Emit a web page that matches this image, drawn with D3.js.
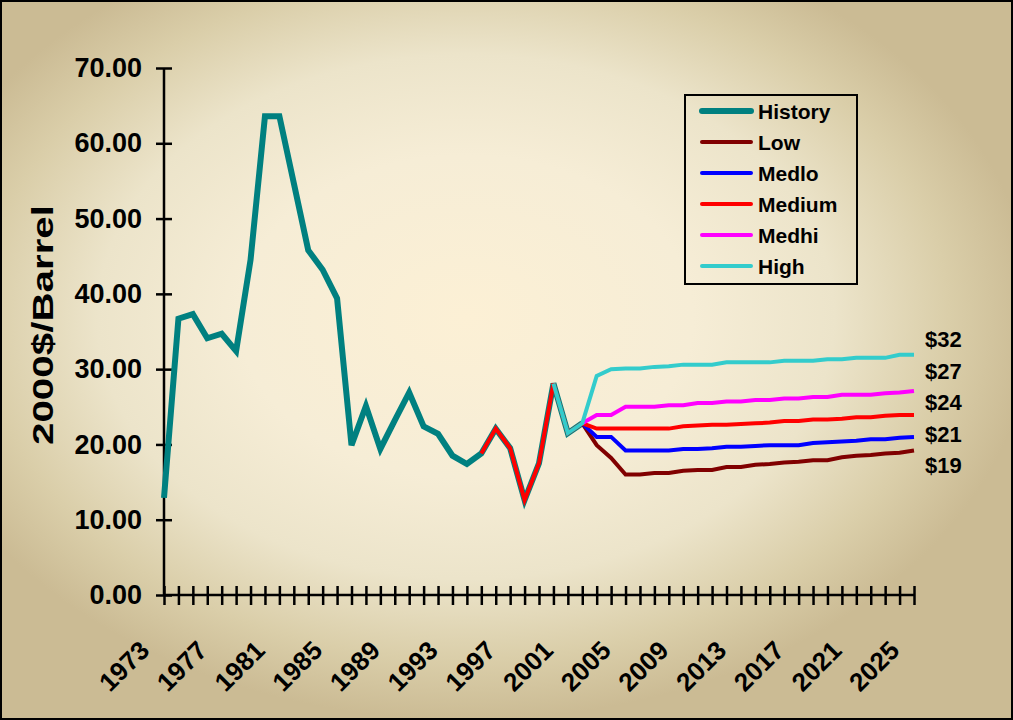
<!DOCTYPE html>
<html>
<head>
<meta charset="utf-8">
<script src="https://cdn.jsdelivr.net/npm/d3@7/dist/d3.min.js"></script>
<style>
  html, body { margin: 0; padding: 0; background: #fff; }
  svg { display: block; }
  text { font-family: "Liberation Sans", Arial, sans-serif; font-weight: bold; fill: #000; }
</style>
</head>
<body>
<svg id="chart" width="1013" height="720"></svg>
<script>
// Oil price history and projection scenarios, 2000 dollars per barrel
const historyYears = d3.range(1973, 2003);
const historyValues = [12.9, 36.7, 37.3, 34.1, 34.7, 32.4, 44.5, 63.6, 63.6, 54.7,
  45.8, 43.2, 39.4, 19.9, 25.1, 19.4, 23.2, 26.9, 22.4, 21.4,
  18.5, 17.4, 18.8, 22.1, 19.5, 12.6, 17.5, 28.1, 21.5, 22.8];

const mediumYears = d3.range(1995, 2026);
const mediumValues = [18.8, 22.1, 19.5, 12.6, 17.5, 28.1, 21.5, 22.8,
  22.1, 22.1, 22.1, 22.1, 22.1, 22.1, 22.4, 22.5, 22.6, 22.6, 22.7, 22.8,
  22.9, 23.1, 23.1, 23.3, 23.3, 23.4, 23.6, 23.6, 23.8, 23.9, 23.9];

const highYears = d3.range(2000, 2026);
const highValues = [28.1, 21.5, 22.8,
  29.1, 30.0, 30.1, 30.1, 30.3, 30.4, 30.6, 30.6, 30.6, 30.9, 30.9, 30.9,
  30.9, 31.1, 31.1, 31.1, 31.3, 31.3, 31.5, 31.5, 31.5, 31.9, 31.9];

const scenarioYears = d3.range(2002, 2026);
const medhiValues = [22.8,
  23.9, 23.9, 25.0, 25.0, 25.0, 25.2, 25.2, 25.5, 25.5, 25.7, 25.7, 25.9,
  25.9, 26.1, 26.1, 26.3, 26.3, 26.6, 26.6, 26.6, 26.8, 26.9, 27.1];
const medloValues = [22.8,
  21.0, 21.0, 19.2, 19.2, 19.2, 19.2, 19.4, 19.4, 19.5, 19.7, 19.7, 19.8,
  19.9, 19.9, 19.9, 20.2, 20.3, 20.4, 20.5, 20.7, 20.7, 20.9, 21.0];
const lowValues = [22.8,
  19.9, 18.2, 16.0, 16.0, 16.2, 16.2, 16.5, 16.6, 16.6, 17.0, 17.0, 17.3,
  17.4, 17.6, 17.7, 17.9, 17.9, 18.3, 18.5, 18.6, 18.8, 18.9, 19.2];

const seriesNames = ["History", "Low", "Medlo", "Medium", "Medhi", "High"];
const seriesColors = ["#008080", "#800000", "#0000ff", "#ff0000", "#ff00ff", "#33cccc"];
const seriesWidths = [6, 4, 4, 4, 4, 4];

const yTicks = [0, 10, 20, 30, 40, 50, 60, 70];
const xLabelYears = d3.range(1973, 2026, 4);
const endLabels = ["$32", "$27", "$24", "$21", "$19"];

const series = [
  { years: historyYears, values: historyValues },
  { years: scenarioYears, values: lowValues },
  { years: scenarioYears, values: medloValues },
  { years: mediumYears, values: mediumValues },
  { years: scenarioYears, values: medhiValues },
  { years: highYears, values: highValues }
];

const W = 1013, H = 720;
const svg = d3.select("#chart");

// Background panel with soft radial shading
const defs = svg.append("defs");
const grad = defs.append("radialGradient")
  .attr("id", "bg").attr("cx", "46%").attr("cy", "44%").attr("r", "56%");
grad.append("stop").attr("offset", "0%").attr("stop-color", "#fcf0d5");
grad.append("stop").attr("offset", "40%").attr("stop-color", "#f6edd6");
grad.append("stop").attr("offset", "65%").attr("stop-color", "#ece4ca");
grad.append("stop").attr("offset", "85%").attr("stop-color", "#dacea9");
grad.append("stop").attr("offset", "100%").attr("stop-color", "#cbbb94");

svg.append("rect").attr("x", 0).attr("y", 0).attr("width", W).attr("height", H)
  .attr("fill", "url(#bg)");
svg.append("rect").attr("x", 1).attr("y", 1).attr("width", W - 2).attr("height", H - 2)
  .attr("fill", "none").attr("stroke", "#000").attr("stroke-width", 2);

const x = d3.scaleLinear().domain([1973, 2025]).range([164, 914]);
const y = d3.scaleLinear().domain([0, 70]).range([595, 68]);

// Y axis with crossing tick marks
const yAxis = svg.append("g").attr("transform", `translate(${x(1973)},0)`)
  .call(d3.axisLeft(y).tickValues(yTicks).tickFormat(d3.format(".2f")).tickSize(8).tickPadding(14));
yAxis.select(".domain").attr("stroke", "#000").attr("stroke-width", 2.5).attr("d", `M0,${y(70)}V${y(0)}`);
yAxis.selectAll(".tick line").attr("x1", 8).attr("x2", -8).attr("stroke", "#000").attr("stroke-width", 2.5);
yAxis.selectAll(".tick text").attr("font-size", 27).attr("font-weight", "bold")
  .attr("font-family", "Liberation Sans, Arial, sans-serif").attr("fill", "#000");

// X axis: a tick for every year, labels every fourth year
const xAxis = svg.append("g").attr("transform", `translate(0,${y(0)})`)
  .call(d3.axisBottom(x).tickValues(d3.range(1973, 2026)).tickSize(10).tickFormat(""));
xAxis.select(".domain").attr("stroke", "#000").attr("stroke-width", 2.5).attr("d", `M${x(1973)},0H${x(2025)}`);
xAxis.selectAll(".tick line").attr("y1", -9).attr("y2", 10).attr("stroke", "#000").attr("stroke-width", 2.5);

svg.append("g").selectAll("text").data(xLabelYears).join("text")
  .attr("transform", d => `translate(${x(d) - 13},652) rotate(-45)`)
  .attr("text-anchor", "end")
  .attr("font-size", 26)
  .text(d => d);

// Y axis title
svg.append("text")
  .attr("transform", `translate(53,325) rotate(-90)`)
  .attr("text-anchor", "middle")
  .attr("font-size", 30)
  .attr("textLength", 240)
  .attr("lengthAdjust", "spacingAndGlyphs")
  .text("2000$/Barrel");

// Series lines
const line = d3.line().x(d => x(d[0])).y(d => y(d[1]));
svg.append("g").selectAll("path").data(series).join("path")
  .attr("d", s => line(s.years.map((yr, i) => [yr, s.values[i]])))
  .attr("fill", "none")
  .attr("stroke", (s, i) => seriesColors[i])
  .attr("stroke-width", (s, i) => seriesWidths[i])
  .attr("stroke-linejoin", "miter");

// Scenario end values
svg.append("g").selectAll("text").data(endLabels).join("text")
  .attr("x", 925)
  .attr("y", (d, i) => 347 + i * 31.5)
  .attr("font-size", 22)
  .text(d => d);

// Legend
const legend = svg.append("g");
legend.append("rect").attr("x", 685).attr("y", 95).attr("width", 172).attr("height", 189)
  .attr("fill", "none").attr("stroke", "#000").attr("stroke-width", 2);
const rows = legend.selectAll("g").data(seriesNames).join("g")
  .attr("transform", (d, i) => `translate(0,${111 + i * 31})`);
rows.append("line").attr("x1", 702).attr("x2", 751).attr("y1", 0).attr("y2", 0)
  .attr("stroke", (d, i) => seriesColors[i])
  .attr("stroke-width", (d, i) => seriesWidths[i])
  .attr("stroke-linecap", "round");
rows.append("text").attr("x", 758).attr("y", 0).attr("dy", "0.36em")
  .attr("font-size", 21).text(d => d);
</script>
</body>
</html>
